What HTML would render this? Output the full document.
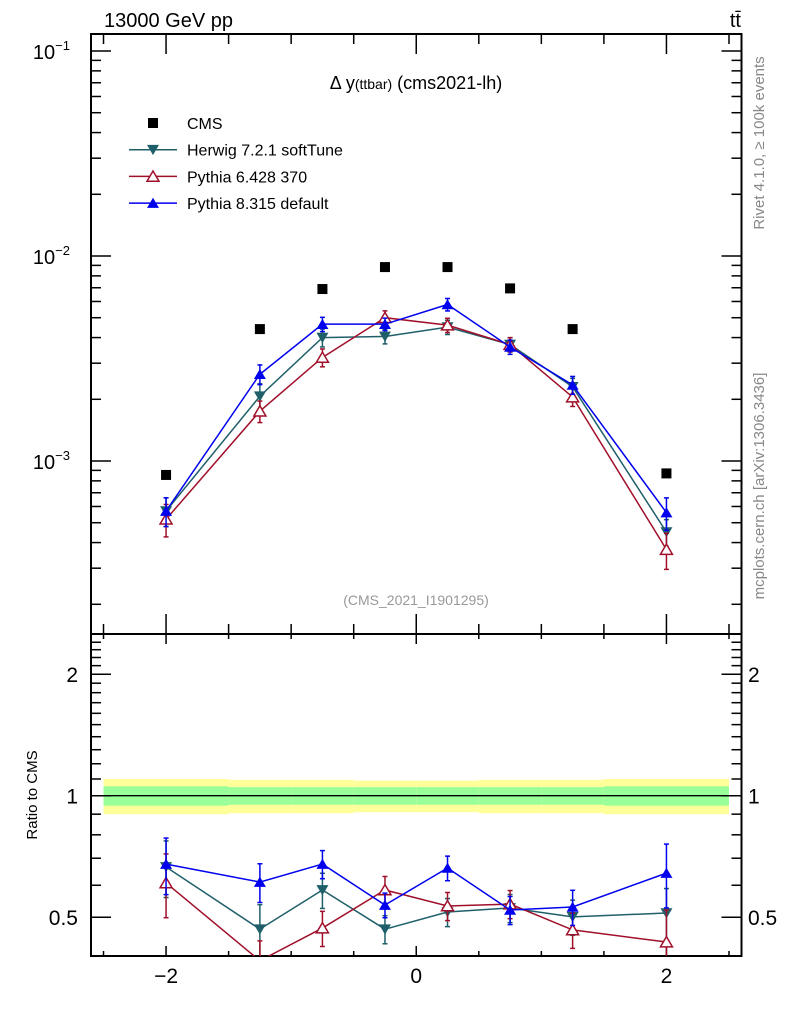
<!DOCTYPE html>
<html><head><meta charset="utf-8"><style>
body{margin:0;background:#fff}
svg{display:block;font-family:"Liberation Sans",sans-serif}
</style></head><body>
<svg id="c" width="786" height="1024" viewBox="0 0 786 1024" xmlns="http://www.w3.org/2000/svg">
<g id="g"></g>
</svg>
<script>
const xCenters=[-2,-1.25,-0.75,-0.25,0.25,0.75,1.25,2];
const binEdges=[-2.5,-1.5,-1,-0.5,0,0.5,1,1.5,2.5];
const cmsVals=[8.55e-4,4.4e-3,6.9e-3,8.83e-3,8.83e-3,6.95e-3,4.4e-3,8.7e-4];
const herwigVals=[5.7e-4,2.07e-3,4.0e-3,4.05e-3,4.5e-3,3.7e-3,2.3e-3,4.5e-4];
const pythia6Vals=[5.2e-4,1.75e-3,3.2e-3,5.0e-3,4.6e-3,3.7e-3,2.05e-3,3.7e-4];
const pythia8Vals=[5.7e-4,2.65e-3,4.65e-3,4.65e-3,5.8e-3,3.6e-3,2.35e-3,5.6e-4];
const herwigErr=[0.16,0.15,0.1,0.08,0.08,0.08,0.1,0.15];
const pythia6Err=[0.18,0.12,0.1,0.08,0.08,0.08,0.1,0.2];
const pythia8Err=[0.16,0.11,0.08,0.07,0.07,0.08,0.1,0.18];
const herwigRatio=[0.666,0.467,0.584,0.467,0.515,0.527,0.501,0.512];
const pythia6Ratio=[0.608,0.39,0.470,0.584,0.533,0.539,0.465,0.434];
const pythia8Ratio=[0.677,0.611,0.677,0.536,0.662,0.521,0.530,0.643];
const bandInner=[0.055,0.05,0.05,0.05,0.05,0.05,0.05,0.055];
const bandOuter=[0.1,0.095,0.095,0.09,0.09,0.095,0.095,0.1];
const mainTicks=[-1,-2,-3];
const ratioTicks=[0.5,1,2];
const xTicks=[-2,0,2];

const L=91,R=741.5,T=34,M=634,B=956;
const sx=v=>L+(v+2.6)/5.2*(R-L);
const sy=v=>51-(Math.log10(v)+1)*205;
const ry=v=>795.7-Math.log2(v)*121.5;
const NS="http://www.w3.org/2000/svg";
const g=document.getElementById('g');
function el(t,a,txt,p){const e=document.createElementNS(NS,t);for(const k in a)e.setAttribute(k,a[k]);if(txt!=null)e.textContent=txt;(p||g).appendChild(e);return e;}

const defs=el('defs',{});
const cp=el('clipPath',{id:'rc'},null,defs);el('rect',{x:L,y:M,width:R-L,height:B-M},null,cp);
const cp2=el('clipPath',{id:'mc'},null,defs);el('rect',{x:L,y:T,width:R-L,height:M-T},null,cp2);

for(let i=0;i<xCenters.length;i++){
 const x0=sx(binEdges[i]),x1=sx(binEdges[i+1]);
 let r=el('rect',{x:x0,y:ry(1+bandOuter[i]),width:x1-x0,height:ry(1-bandOuter[i])-ry(1+bandOuter[i]),fill:'#ffff99'});
 
 r=el('rect',{x:x0,y:ry(1+bandInner[i]),width:x1-x0,height:ry(1-bandInner[i])-ry(1+bandInner[i]),fill:'#99ff99'});
 
}
el('line',{x1:L,x2:R,y1:ry(1),y2:ry(1),stroke:'#000','stroke-width':1.3,});

el('rect',{x:L,y:T,width:R-L,height:M-T,fill:'none',stroke:'#000','stroke-width':2,});
el('rect',{x:L,y:M,width:R-L,height:B-M,fill:'none',stroke:'#000','stroke-width':2,});

for(let v=-2.5;v<=2.51;v+=0.5){
 const X=sx(v),maj=Math.abs(v-Math.round(v))<1e-6&&Math.round(v)%2===0;const len=maj?20:10;
 el('line',{x1:X,x2:X,y1:T,y2:T+len,stroke:'#000','stroke-width':1.5});
 el('line',{x1:X,x2:X,y1:M,y2:M-len,stroke:'#000','stroke-width':1.5});
 el('line',{x1:X,x2:X,y1:M,y2:M+len*0.5,stroke:'#000','stroke-width':1.5});
 el('line',{x1:X,x2:X,y1:B,y2:B-len*0.5,stroke:'#000','stroke-width':1.5});
}
xTicks.forEach(v=>{const t=el('text',{x:sx(v),y:983,'font-size':21,'text-anchor':'middle'},v<0?'\u2212'+(-v):String(v));
 });

for(let d=-4;d<=-1;d++){for(let k=1;k<10;k++){const v=k*Math.pow(10,d);const Y=sy(v);if(Y<T||Y>M)continue;
 const len=k===1?20:10;
 el('line',{x1:L,x2:L+len,y1:Y,y2:Y,stroke:'#000','stroke-width':1.5});
 el('line',{x1:R,x2:R-len,y1:Y,y2:Y,stroke:'#000','stroke-width':1.5});}}
mainTicks.forEach(d=>{const t=el('text',{x:70,y:sy(Math.pow(10,d))+8,'font-size':20,'text-anchor':'end'},'10');
 
 el('tspan',{dy:-9,'font-size':13},'\u2212'+(-d),t);});

[0.4,0.5,0.6,0.7,0.8,0.9,1,1.1,1.2,1.3,1.4,1.5,1.6,1.7,1.8,1.9,2,2.1,2.2,2.3,2.4].forEach(v=>{const Y=ry(v);if(Y<M||Y>B)return;
 const len=(v===0.5||v===1||v===2)?20:10;
 el('line',{x1:L,x2:L+len,y1:Y,y2:Y,stroke:'#000','stroke-width':1.5});
 el('line',{x1:R,x2:R-len,y1:Y,y2:Y,stroke:'#000','stroke-width':1.5});});
ratioTicks.forEach(v=>{let t=el('text',{x:78,y:ry(v)+8,'font-size':21,'text-anchor':'end'},String(v));
 
 t=el('text',{x:748,y:ry(v)+8,'font-size':21},String(v));
 });

function marker(type,x,y,col,parent,size){
 const s=size||6;
 if(type==='sq')return el('rect',{x:x-5,y:y-5,width:10,height:10,fill:'#000'},null,parent);
 if(type==='down')return el('polygon',{points:`${x-s},${y-s*0.8} ${x+s},${y-s*0.8} ${x},${y+s*0.9}`,fill:col},null,parent);
 if(type==='up')return el('polygon',{points:`${x-s},${y+s*0.8} ${x+s},${y+s*0.8} ${x},${y-s*0.9}`,fill:col},null,parent);
 if(type==='upo')return el('polygon',{points:`${x-s},${y+s*0.8} ${x+s},${y+s*0.8} ${x},${y-s*0.9}`,fill:'#fff',stroke:col,'stroke-width':1.5},null,parent);
}
const series=[
 {name:'herwig',vals:herwigVals,rat:herwigRatio,err:herwigErr,col:'#1f5f6a',m:'down'},
 {name:'pythia6',vals:pythia6Vals,rat:pythia6Ratio,err:pythia6Err,col:'#a0102a',m:'upo'},
 {name:'pythia8',vals:pythia8Vals,rat:pythia8Ratio,err:pythia8Err,col:'#0000ee',m:'up'}];
const mg=el('g',{'clip-path':'url(#mc)'}),rg=el('g',{'clip-path':'url(#rc)'});
series.forEach(s=>{
 [[mg,s.vals,sy],[rg,s.rat,ry]].forEach(([par,arr,f])=>{
  const pts=arr.map((v,i)=>sx(xCenters[i])+','+f(v)).join(' ');
  const pl=el('polyline',{points:pts,fill:'none',stroke:s.col,'stroke-width':1.5},null,par);
  
  arr.forEach((v,i)=>{const X=sx(xCenters[i]);const y1=f(v*(1+s.err[i])),y2=f(v*(1-s.err[i]));
   el('line',{x1:X,x2:X,y1:y1,y2:y2,stroke:s.col,'stroke-width':1.5},null,par);
   el('line',{x1:X-2.5,x2:X+2.5,y1:y1,y2:y1,stroke:s.col,'stroke-width':1.5},null,par);
   el('line',{x1:X-2.5,x2:X+2.5,y1:y2,y2:y2,stroke:s.col,'stroke-width':1.5},null,par);
   const mk=marker(s.m,X,f(v),s.col,par);
   });
 });
});
cmsVals.forEach((v,i)=>{const mk=marker('sq',sx(xCenters[i]),sy(v),'#000');
 });

const leg=[['CMS','sq','#000'],['Herwig 7.2.1 softTune','down','#1f5f6a'],['Pythia 6.428 370','upo','#a0102a'],['Pythia 8.315 default','up','#0000ee']];
leg.forEach((e,i)=>{const Y=123+i*26.7;const lg=el('g',{});
 
 if(i>0)el('line',{x1:129,x2:177,y1:Y,y2:Y,stroke:e[2],'stroke-width':1.5},null,lg);
 marker(e[1],153,Y,e[2],lg);
 el('text',{x:187,y:Y+6,'font-size':16},e[0],lg);});
</script>
<div style="position:absolute;left:0;top:0;width:786px;height:1024px;pointer-events:none">
<svg width="786" height="1024" style="font-family:'Liberation Sans',sans-serif">
<text x="104" y="27" font-size="20">13000 GeV pp</text>
<text x="741" y="27" font-size="20" text-anchor="end">tt̄</text>
<text x="416" y="89" font-size="18" text-anchor="middle">Δ y<tspan font-size="14">(ttbar)</tspan> (cms2021-lh)</text>
<text x="416" y="605" font-size="14" fill="#999" text-anchor="middle">(CMS_2021_I1901295)</text>
<text transform="translate(764,143) rotate(-90)" font-size="15" fill="#888" text-anchor="middle">Rivet 4.1.0, ≥ 100k events</text>
<text transform="translate(764,486) rotate(-90)" font-size="15" fill="#888" text-anchor="middle">mcplots.cern.ch [arXiv:1306.3436]</text>
<text transform="translate(37,795) rotate(-90)" font-size="15" text-anchor="middle">Ratio to CMS</text>
</svg></div>
</body></html>
